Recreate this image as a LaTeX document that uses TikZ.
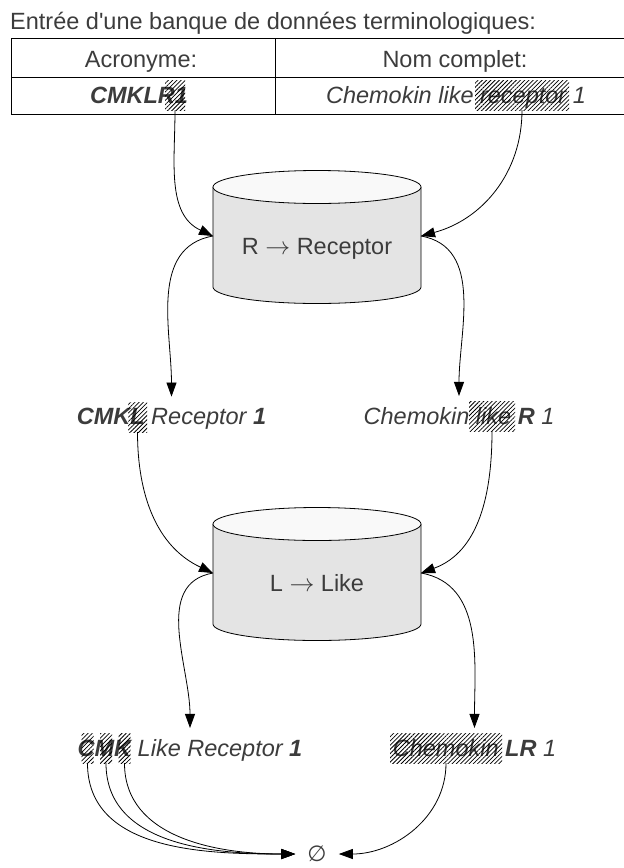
\documentclass[tikz,border=0pt]{standalone}
\usepackage{fontspec}
\setmainfont{Liberation Sans}
\newfontfamily\plainfont{Liberation Sans}
\newfontfamily\symfont{DejaVu Sans}
\usetikzlibrary{arrows.meta,patterns.meta}
\definecolor{txt}{RGB}{60,60,60}
\definecolor{cylbody}{RGB}{228,228,228}
\definecolor{cyltop}{RGB}{249,249,249}
\newcommand{\rarr}{\ensuremath{\rightarrow}}
\begin{document}
\begin{tikzpicture}[x=1pt,y=1pt,
  every node/.style={text=txt, font=\fontsize{23.5}{28}\selectfont},
  lbl/.style={inner xsep=0pt, inner ysep=10.8pt, anchor=base},
  plain/.style={inner sep=0pt, anchor=base},
  hatch/.style={draw=none, inner sep=0pt, pattern={Lines[angle=45,distance=3pt,line width=0.75pt]}, pattern color=black},
  conn/.style={draw=black, line width=0.8pt, -{Triangle[length=14pt,width=10pt]}},
  cylline/.style={draw=black, line width=0.8pt},
  tabline/.style={draw=black, line width=0.9pt}]
\useasboundingbox (0,0) rectangle (624,-868);
\clip (0,0) rectangle (624,-868);

% title
\node[plain, anchor=base west, font=\plainfont\fontsize{23.5}{28}\selectfont] (title) at (10,-29.5) {Entrée d'une banque de données terminologiques:};

% table
\draw[tabline] (11,-38) rectangle (640,-114);
\draw[tabline] (11,-77) -- (640,-77);
\draw[tabline] (275,-38) -- (275,-114);
\node[plain] (hA) at (141,-67) {Acronyme:};
\node[plain] (hN) at (455,-67) {Nom complet:};
\node[plain] (acr) at (139,-103) {\bfseries\itshape CMKLR1};
\node[plain] (full) at (456,-103) {\itshape Chemokin like receptor 1};
\node[hatch, minimum width=20pt, minimum height=30pt] (hR1) at (175,-95) {};
\node[hatch, minimum width=94pt, minimum height=30pt] (hrec) at (522,-95) {};

% cylinder 1
\path[fill=cylbody] (213,-187) -- (213,-287) arc[start angle=180,end angle=360,x radius=104pt,y radius=16.5pt] -- (421,-187) -- cycle;
\draw[cylline] (213,-187) -- (213,-287) arc[start angle=180,end angle=360,x radius=104pt,y radius=16.5pt] -- (421,-187);
\draw[cylline, fill=cyltop] (317,-187) ellipse[x radius=104pt, y radius=16.5pt];
\node[plain] (t1) at (317,-254) {R \rarr{} Receptor};
\coordinate (c1w) at (213,-236);
\coordinate (c1e) at (421,-236);

% cylinder 2
\path[fill=cylbody] (213,-524) -- (213,-624) arc[start angle=180,end angle=360,x radius=104pt,y radius=16.5pt] -- (421,-524) -- cycle;
\draw[cylline] (213,-524) -- (213,-624) arc[start angle=180,end angle=360,x radius=104pt,y radius=16.5pt] -- (421,-524);
\draw[cylline, fill=cyltop] (317,-524) ellipse[x radius=104pt, y radius=16.5pt];
\node[plain] (t2) at (317,-591) {L \rarr{} Like};
\coordinate (c2w) at (213,-573);
\coordinate (c2e) at (421,-573);

% row 2 labels
\node[lbl] (l2a) at (171.5,-424) {\itshape\textbf{CMKL} Receptor \textbf{1}};
\node[lbl] (l2b) at (459,-424) {\itshape Chemokin like \textbf{R} 1};
\node[hatch, minimum width=19pt, minimum height=30pt] (h2L) at (137.5,-417) {};
\node[hatch, minimum width=46pt, minimum height=30pt] (h2like) at (492,-416) {};

% row 3 labels
\node[lbl] (l3a) at (190,-756) {\itshape\textbf{CMK} Like Receptor \textbf{1}};
\node[lbl] (l3b) at (474.5,-756) {\itshape Chemokin \textbf{LR} 1};
\node[hatch, minimum width=12pt, minimum height=30pt] (h3C) at (87.5,-748) {};
\node[hatch, minimum width=12pt, minimum height=30pt] (h3M) at (106,-748) {};
\node[hatch, minimum width=12pt, minimum height=30pt] (h3K) at (124.5,-748) {};
\node[hatch, minimum width=112pt, minimum height=30pt] (h3chem) at (446,-748) {};

% empty set
\node[inner xsep=12pt, inner ysep=0pt, font=\symfont\fontsize{22}{26}\selectfont] (empty) at (317,-854) {∅};

% connectors
\draw[conn] (hR1.south) to[out=-90, in=155] (c1w);
\draw[conn] (hrec.south) to[out=-90, in=15] (c1e);
\draw[conn] (c1w) to[out=190, in=90] (l2a.north);
\draw[conn] (c1e) to[out=-10, in=90] (l2b.north);
\draw[conn] (h2L.south) to[out=-90, in=155] (c2w);
\draw[conn] (h2like.south) to[out=-90, in=20] (c2e);
\draw[conn] (c2w) to[out=190, in=90] (l3a.north);
\draw[conn] (c2e) to[out=-10, in=90] (l3b.north);
\draw[conn] (h3C.south) to[out=-90, in=180] (empty.west);
\draw[conn] (h3M.south) to[out=-90, in=180] (empty.west);
\draw[conn] (h3K.south) to[out=-90, in=180] (empty.west);
\draw[conn] (h3chem.south) to[out=-90, in=0] (empty.east);
\end{tikzpicture}
\end{document}
